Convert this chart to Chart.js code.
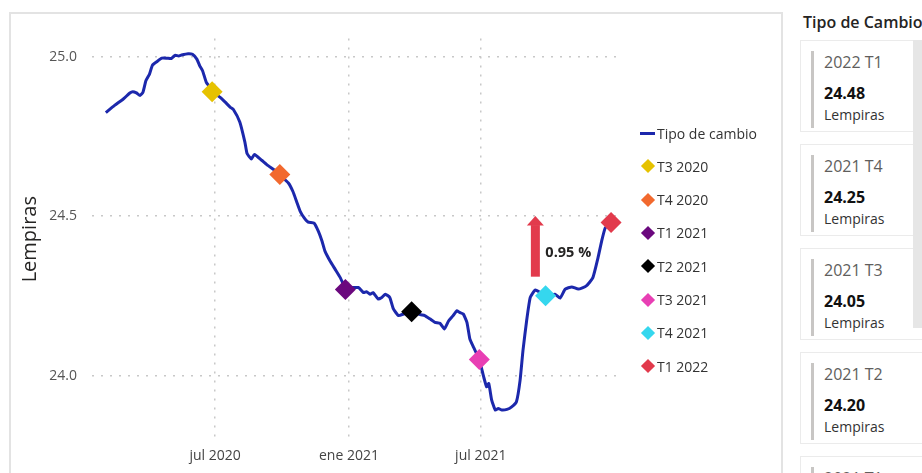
<!DOCTYPE html>
<html>
<head>
<meta charset="utf-8">
<script src="https://cdn.jsdelivr.net/npm/chart.js@4.4.1/dist/chart.umd.min.js"></script>
<style>
  body { margin: 0; width: 922px; height: 473px; overflow: hidden; background: #fff; position: relative; font-family: "Open Sans", sans-serif; }
  #frame { position: absolute; left: 9px; top: 12px; width: 770px; height: 470px; border-left: 2px solid #E3E3E3; border-top: 2px solid #E3E3E3; border-right: 2px solid #E3E3E3; }
  #myChart { position: absolute; left: 12px; top: 15px; }
  .leg { position: absolute; left: 640px; height: 20px; display: flex; align-items: center; font-size: 14px; color: #333; white-space: nowrap; }
  .leg .sym { width: 15px; margin-right: 2px; display: flex; justify-content: center; align-items: center; }
  .leg .ln { width: 15px; height: 3px; }
  .leg .dm { width: 10px; height: 10px; transform: rotate(45deg); }
  #head { position: absolute; left: 803px; top: 11px; font-size: 16px; color: #252423; font-weight: 600; white-space: nowrap; }
  .card { position: absolute; left: 800px; width: 130px; height: 92px; background: #fff; border: 1px solid #EBEBEB; box-sizing: border-box; }
  .card .bar { position: absolute; left: 10px; top: 10px; width: 3px; height: 77px; background: #C8C6C4; }
  .card .q { position: absolute; left: 23px; top: 10px; font-size: 16px; color: #605E5C; }
  .card .v { position: absolute; left: 23px; top: 41px; font-size: 16px; font-weight: 700; color: #111; }
  .card .u { position: absolute; left: 23px; top: 64px; font-size: 14px; color: #333; }
  #scroll { position: absolute; left: 913px; top: 40px; width: 9px; height: 288px; background: #E6E6E6; }
</style>
</head>
<body>
<div id="frame"></div>
<canvas id="myChart" width="768" height="458"></canvas>
<div id="legend"></div>
<div id="head">Tipo de Cambio</div>
<div id="cards"></div>
<div id="scroll"></div>
<script>
// serie diaria (muestreada) del tipo de cambio
var lineDates = [
	"2020-02-02", "2020-02-14", "2020-02-26", "2020-03-06", "2020-03-10", "2020-03-15", "2020-03-20", "2020-03-24",
	"2020-03-28", "2020-04-02", "2020-04-06", "2020-04-12", "2020-04-19", "2020-04-26", "2020-05-02", "2020-05-07",
	"2020-05-12", "2020-05-16", "2020-05-25", "2020-05-31", "2020-06-06", "2020-06-10", "2020-06-14", "2020-06-19",
	"2020-06-24", "2020-06-27", "2020-07-08", "2020-07-15", "2020-07-22", "2020-07-26", "2020-08-04", "2020-08-11",
	"2020-08-14", "2020-08-20", "2020-08-24", "2020-09-03", "2020-09-12", "2020-09-21", "2020-09-28", "2020-10-10",
	"2020-10-16", "2020-10-21", "2020-10-26", "2020-10-31", "2020-11-06", "2020-11-14", "2020-11-20", "2020-11-25",
	"2020-11-29", "2020-12-06", "2020-12-13", "2020-12-20", "2020-12-27", "2021-01-14", "2021-01-21", "2021-01-25",
	"2021-01-30", "2021-02-03", "2021-02-10", "2021-02-15", "2021-02-20", "2021-02-26", "2021-03-03", "2021-03-10",
	"2021-03-17", "2021-03-28", "2021-04-09", "2021-04-15", "2021-04-22", "2021-04-29", "2021-05-06", "2021-05-12",
	"2021-05-18", "2021-05-24", "2021-05-29", "2021-06-02", "2021-06-07", "2021-06-12", "2021-06-16", "2021-06-21",
	"2021-06-29", "2021-07-05", "2021-07-09", "2021-07-12", "2021-07-16", "2021-07-21", "2021-07-25", "2021-07-30",
	"2021-08-06", "2021-08-12", "2021-08-19", "2021-08-24", "2021-08-28", "2021-09-02", "2021-09-07", "2021-09-14",
	"2021-09-28", "2021-10-11", "2021-10-18", "2021-10-25", "2021-11-03", "2021-11-12", "2021-11-23", "2021-12-02",
	"2021-12-09", "2021-12-14", "2021-12-19", "2021-12-27",
];
var lineValues = [
	24.824, 24.847, 24.867, 24.886, 24.890, 24.886, 24.878, 24.888,
	24.924, 24.945, 24.973, 24.984, 24.995, 24.995, 24.994, 25.004,
	25.002, 25.005, 25.009, 25.007, 24.992, 24.971, 24.955, 24.919,
	24.904, 24.890, 24.872, 24.857, 24.841, 24.835, 24.795, 24.732,
	24.696, 24.679, 24.693, 24.675, 24.658, 24.644, 24.629, 24.603,
	24.577, 24.546, 24.515, 24.496, 24.481, 24.478, 24.452, 24.421,
	24.390, 24.359, 24.333, 24.307, 24.276, 24.276, 24.260, 24.263,
	24.255, 24.260, 24.240, 24.245, 24.255, 24.245, 24.209, 24.188,
	24.193, 24.203, 24.191, 24.188, 24.178, 24.167, 24.164, 24.146,
	24.172, 24.188, 24.203, 24.198, 24.193, 24.167, 24.115, 24.089,
	24.050, 23.996, 23.965, 23.975, 23.923, 23.892, 23.897, 23.892,
	23.894, 23.901, 23.918, 23.985, 24.079, 24.172, 24.245, 24.268,
	24.250, 24.255, 24.243, 24.271, 24.278, 24.271, 24.281, 24.307,
	24.369, 24.421, 24.463, 24.480,
];

// trimestres
var quarterLabels = ["T3 2020", "T4 2020", "T1 2021", "T2 2021", "T3 2021", "T4 2021", "T1 2022"];
var quarterDates = ["2020-06-27", "2020-09-28", "2020-12-27", "2021-03-28", "2021-06-29", "2021-09-28", "2021-12-27"];
var quarterValues = [24.89, 24.63, 24.27, 24.20, 24.05, 24.25, 24.48];
var quarterColors = ["#E6C200", "#F2692E", "#6B087E", "#000000", "#E83FB4", "#35D7EE", "#E23A4C"];

// ejes
var tickDates = ["2020-07-01", "2021-01-01", "2021-07-01"];
var tickLabels = ["jul 2020", "ene 2021", "jul 2021"];
var yTicks = [24.0, 24.5, 25.0];

var lineColor = "#1C28AC";
var arrowColor = "#E23A4C";
var arrowDate = "2021-09-14";
var arrowFrom = 24.31;
var arrowTo = 24.50;

function dayOf(s) {
	const p = s.split("-").map(Number);
	return (Date.UTC(p[0], p[1] - 1, p[2]) - Date.UTC(2020, 0, 1)) / 86400000;
}

const n = quarterValues.length;
const pct = ((quarterValues[n - 1] - quarterValues[n - 2]) / quarterValues[n - 2] * 100).toFixed(2) + " %";
const font = "'Open Sans', sans-serif";

const datasets = [
	{
		label: "Tipo de cambio",
		data: lineDates.map((d, i) => ({ x: dayOf(d), y: lineValues[i] })),
		borderColor: lineColor,
		borderWidth: 3,
		pointRadius: 0,
		tension: 0.15,
		order: 1,
	},
];
quarterLabels.forEach((q, i) => {
	datasets.push({
		label: q,
		data: [{ x: dayOf(quarterDates[i]), y: quarterValues[i] }],
		showLine: false,
		pointStyle: "rectRot",
		pointRadius: 10.5,
		borderWidth: 0,
		backgroundColor: quarterColors[i],
		order: 0,
	});
});

// flecha de variacion
const arrowPlugin = {
	id: "arrow",
	afterDatasetsDraw(chart) {
		const { ctx, scales } = chart;
		const cx = scales.x.getPixelForValue(dayOf(arrowDate));
		const yb = scales.y.getPixelForValue(arrowFrom);
		const yt = scales.y.getPixelForValue(arrowTo);
		ctx.save();
		ctx.fillStyle = arrowColor;
		ctx.fillRect(cx - 4.5, yt + 9, 9, yb - yt - 9);
		ctx.beginPath();
		ctx.moveTo(cx, yt);
		ctx.lineTo(cx + 8.5, yt + 9.5);
		ctx.lineTo(cx - 8.5, yt + 9.5);
		ctx.closePath();
		ctx.fill();
		ctx.font = "bold 14.5px " + font;
		ctx.fillStyle = "#252423";
		ctx.textBaseline = "middle";
		ctx.fillText(pct, cx + 10, (yt + yb) / 2 + 6);
		ctx.restore();
	},
};

new Chart("myChart", {
	type: "line",
	data: { datasets: datasets },
	plugins: [arrowPlugin],
	options: {
		responsive: false,
		animation: false,
		devicePixelRatio: 1,
		layout: { padding: { left: 0, top: 21, right: 158, bottom: 0 } },
		plugins: { legend: { display: false }, tooltip: { enabled: false } },
		events: [],
		scales: {
			x: {
				type: "linear",
				min: dayOf("2020-01-14"),
				max: dayOf("2022-01-11"),
				afterBuildTicks: (s) => { s.ticks = tickDates.map((d) => ({ value: dayOf(d) })); },
				afterFit: (s) => { s.height = 33; },
				grid: { color: "#C8C8C8", lineWidth: 1.5, drawTicks: false },
				border: { display: false, dash: [2, 7] },
				ticks: {
					padding: 8,
					maxRotation: 0,
					color: "#444",
					font: { family: font, size: 14 },
					callback: (v) => tickLabels[tickDates.map(dayOf).indexOf(v)],
				},
			},
			y: {
				min: 23.798,
				max: 25.057,
				afterBuildTicks: (s) => { s.ticks = yTicks.map((v) => ({ value: v })); },
				afterFit: (s) => { s.width = 80; },
				grid: { color: "#C8C8C8", lineWidth: 1.5, drawTicks: false },
				border: { display: false, dash: [2, 7] },
				ticks: {
					padding: 15,
					color: "#555",
					font: { family: font, size: 14 },
					callback: (v) => v.toFixed(1),
				},
				title: {
					display: true,
					text: "Lempiras",
					color: "#252423",
					font: { family: font, size: 20 },
					padding: { top: 6, bottom: 0 },
				},
			},
		},
	},
});

// leyenda
const legend = document.getElementById("legend");
datasets.forEach((ds, i) => {
	const el = document.createElement("div");
	el.className = "leg";
	el.style.top = (123 + i * 33.3) + "px";
	const sym = i === 0
		? `<span class="ln" style="background:${ds.borderColor}"></span>`
		: `<span class="dm" style="background:${ds.backgroundColor}"></span>`;
	el.innerHTML = `<span class="sym">${sym}</span>${ds.label}`;
	legend.appendChild(el);
});

// tarjetas
const cards = document.getElementById("cards");
for (let i = n - 1, k = 0; i >= 0; i--, k++) {
	const parts = quarterLabels[i].split(" ");
	const c = document.createElement("div");
	c.className = "card";
	c.style.top = (40 + k * 104) + "px";
	c.innerHTML = `<div class="bar"></div><div class="q">${parts[1]} ${parts[0]}</div>` +
		`<div class="v">${quarterValues[i].toFixed(2)}</div><div class="u">Lempiras</div>`;
	cards.appendChild(c);
}
</script>
</body>
</html>
